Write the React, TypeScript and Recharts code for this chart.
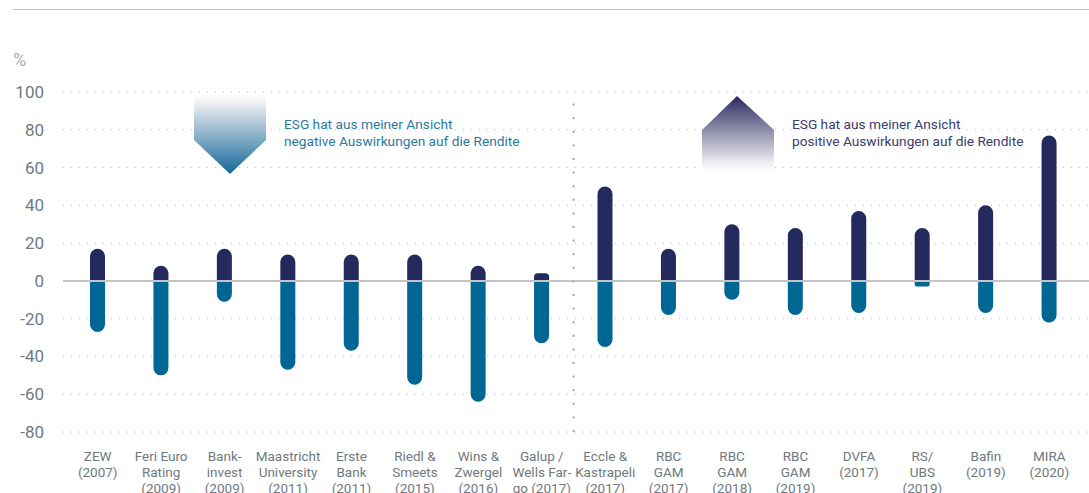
import { BarChart, Bar, XAxis, YAxis, CartesianGrid, ReferenceLine } from 'recharts';

// studies (x categories), line breaks as in the original labels
const categories = [
  'ZEW\n(2007)',
  'Feri Euro\nRating\n(2009)',
  'Bank-\ninvest\n(2009)',
  'Maastricht\nUniversity\n(2011)',
  'Erste\nBank\n(2011)',
  'Riedl &\nSmeets\n(2015)',
  'Wins &\nZwergel\n(2016)',
  'Galup /\nWells Far-\ngo (2017)',
  'Eccle &\nKastrapeli\n(2017)',
  'RBC\nGAM\n(2017)',
  'RBC\nGAM\n(2018)',
  'RBC\nGAM\n(2019)',
  'DVFA\n(2017)',
  'RS/\nUBS\n(2019)',
  'Bafin\n(2019)',
  'MIRA\n(2020)',
];

// share saying ESG has a positive effect on returns (%)
const positiveValues = [17, 8, 17, 14, 14, 14, 8, 4, 50, 17, 30, 28, 37, 28, 40, 77];
// share saying ESG has a negative effect on returns (%)
const negativeValues = [-27, -50, -11, -47, -37, -55, -64, -33, -35, -18, -10, -18, -17, -3, -17, -22];

const yTicks = [-80, -60, -40, -20, 0, 20, 40, 60, 80, 100];

const data = categories.map((name, i) => ({
  name,
  positive: positiveValues[i],
  negative: negativeValues[i],
}));

const NAVY = '#252a5e';
const TEAL = '#006694';
const LABEL = '#6f7981';
const FONT = 'Roboto, sans-serif';

const YTick = ({ y, payload }: any) => (
  <text x={44} y={y} dy="0.35em" textAnchor="end" fill={LABEL} fontSize={17} fontFamily={FONT}>
    {payload.value}
  </text>
);

const XTick = ({ x, payload }: any) => {
  const lines = String(payload.value).split('\n');
  return (
    <text textAnchor="middle" fill={LABEL} fontSize={13.5} fontFamily={FONT}>
      {lines.map((l, i) => (
        <tspan key={i} x={x} y={461 + i * 16}>
          {l}
        </tspan>
      ))}
    </text>
  );
};

export default function App() {
  return (
    <div style={{ position: 'absolute', left: 0, top: 0, width: 1089, height: 493, background: '#fff' }}>
      <BarChart
        width={1089}
        height={493}
        data={data}
        stackOffset="sign"
        margin={{ top: 92, right: 0, bottom: 0, left: 0 }}
      >
        <CartesianGrid vertical={false} stroke="#b8b8b8" strokeDasharray="1 7" />
        <XAxis
          dataKey="name"
          height={61}
          axisLine={false}
          tickLine={false}
          interval={0}
          padding={{ left: 3, right: 8 }}
          tick={<XTick />}
        />
        <YAxis
          width={63}
          domain={[-80, 100]}
          ticks={yTicks}
          axisLine={false}
          tickLine={false}
          tick={<YTick />}
        />
        <Bar dataKey="positive" stackId="s" fill={NAVY} barSize={15} radius={[7.5, 7.5, 0, 0]} isAnimationActive={false} />
        <Bar dataKey="negative" stackId="s" fill={TEAL} barSize={15} radius={[7.5, 7.5, 0, 0]} isAnimationActive={false} />
        <ReferenceLine y={0} stroke="#c4c4c4" strokeWidth={2} />
        <ReferenceLine
          x={categories[8]}
          position="start"
          stroke="#a3a3a3"
          strokeWidth={2}
          strokeDasharray="2 11.6"
        />
      </BarChart>

      <svg
        width={1089}
        height={493}
        style={{ position: 'absolute', left: 0, top: 0, pointerEvents: 'none' }}
      >
        <defs>
          <linearGradient id="downArrow" x1="0" y1="0" x2="0" y2="1">
            <stop offset="0%" stopColor="#ffffff" />
            <stop offset="12%" stopColor="#eceef1" />
            <stop offset="100%" stopColor="#13689a" />
          </linearGradient>
          <linearGradient id="upArrow" x1="0" y1="0" x2="0" y2="1">
            <stop offset="0%" stopColor="#2a2a60" />
            <stop offset="88%" stopColor="#eeeef2" />
            <stop offset="100%" stopColor="#ffffff" />
          </linearGradient>
        </defs>
        <line x1={13} y1={9.5} x2={1089} y2={9.5} stroke="#c9c1ba" strokeWidth={1} />
        <text x={13} y={66} fill="#a8aeb3" fontSize={18} fontFamily={FONT}>
          %
        </text>

        <polygon points="194,94 266,94 266,140 230,174 194,140" fill="url(#downArrow)" />
        <text fill="#2a7aa3" fontSize={13.7} fontFamily={FONT}>
          <tspan x={284} y={129}>ESG hat aus meiner Ansicht</tspan>
          <tspan x={284} y={146}>negative Auswirkungen auf die Rendite</tspan>
        </text>

        <polygon points="737,96 774,130 774,172 702,172 702,130" fill="url(#upArrow)" />
        <text fill="#3a3b6f" fontSize={13.7} fontFamily={FONT}>
          <tspan x={792} y={129}>ESG hat aus meiner Ansicht</tspan>
          <tspan x={792} y={146}>positive Auswirkungen auf die Rendite</tspan>
        </text>
      </svg>
    </div>
  );
}
